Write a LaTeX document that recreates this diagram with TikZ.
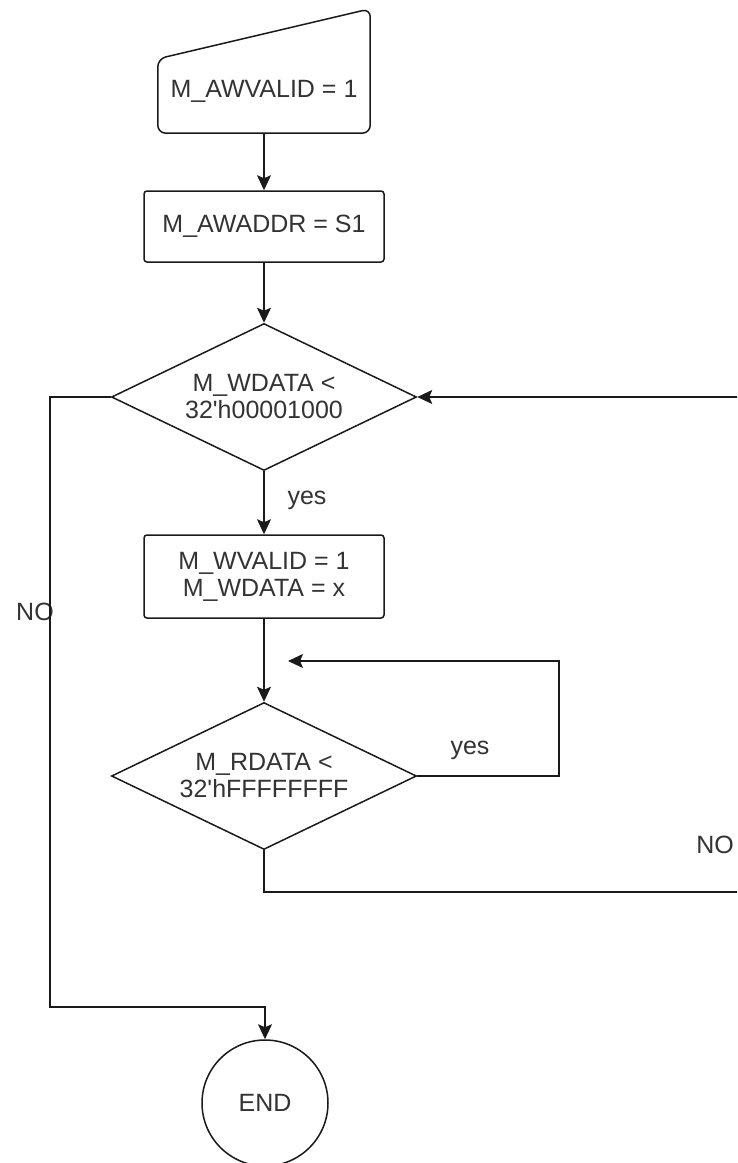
\documentclass[tikz,border=0pt]{standalone}
\usepackage{fontspec}
\setmainfont{Liberation Sans}
\usetikzlibrary{arrows.meta,positioning,calc,shapes.geometric}
\definecolor{ink}{HTML}{1A1A1A}
\definecolor{txt}{HTML}{333333}

\begin{document}
\begin{tikzpicture}[x=1pt,y=1pt,font=\fontsize{25}{27}\selectfont,
  box/.style={draw=ink,line width=1.5pt,text=txt,align=center,rounded corners=3pt,
              minimum width=240pt,inner sep=0pt},
  dec/.style={draw=ink,line width=1.5pt,text=txt,align=center,diamond,aspect=2.07,
              minimum width=305pt,minimum height=147pt,inner sep=0pt},
  lbl/.style={text=txt,inner sep=0pt},
  w/.style={-{Stealth[length=15pt,width=14pt,inset=3pt]},draw=ink,line width=1.5pt}]

  \clip (0,0) rectangle (737,-1163);

  % input
  \node[text=txt,minimum width=212pt,minimum height=84pt,inner sep=0pt] (awvalid) at (264,-91) {M\_AWVALID = 1};
  \draw[ink,line width=1.5pt,rounded corners=8pt]
    (awvalid.south west) -- ($(awvalid.north west)+(0,-10)$) -- ($(awvalid.north east)+(0,40)$)
    -- (awvalid.south east) -- cycle;

  % steps
  \node[box,minimum height=71pt] (awaddr) at (264,-226.5) {M\_AWADDR = S1};
  \node[dec] (wdata) at (264,-397) {M\_WDATA <\\32\textquotesingle h00001000};
  \node[box,minimum height=83pt] (wvalid) at (264,-576.5) {M\_WVALID = 1\\M\_WDATA = x};
  \node[dec] (rdata) at (264,-776) {M\_RDATA <\\32\textquotesingle hFFFFFFFF};
  \node[draw=ink,line width=1.5pt,circle,minimum size=126pt,text=txt] (done) at (265,-1103) {END};

  % labels
  \node[lbl] (yes1) at (307,-500) {yes};
  \node[lbl] (yes2) at (470,-750) {yes};
  \node[lbl] (no1) at (35,-612) {NO};
  \node[lbl] (no2) at (715,-845) {NO};

  \coordinate (nocorner) at (50,-1007);
  \coordinate (yesin) at (288,-661);

  \draw[w] (awvalid.south) -- (awaddr.north);
  \draw[w] (awaddr.south) -- (wdata.north);
  \draw[w] (wdata.south) -- (wvalid.north);
  \draw[w] (wvalid.south) -- (rdata.north);
  \draw[w] (rdata.east) -| (559,-661) -- (yesin);
  \draw[w] (rdata.south) |- (760,-892) |- (wdata.east);
  \draw[w] (wdata.west) -| (nocorner) -| (done.north);
\end{tikzpicture}
\end{document}
